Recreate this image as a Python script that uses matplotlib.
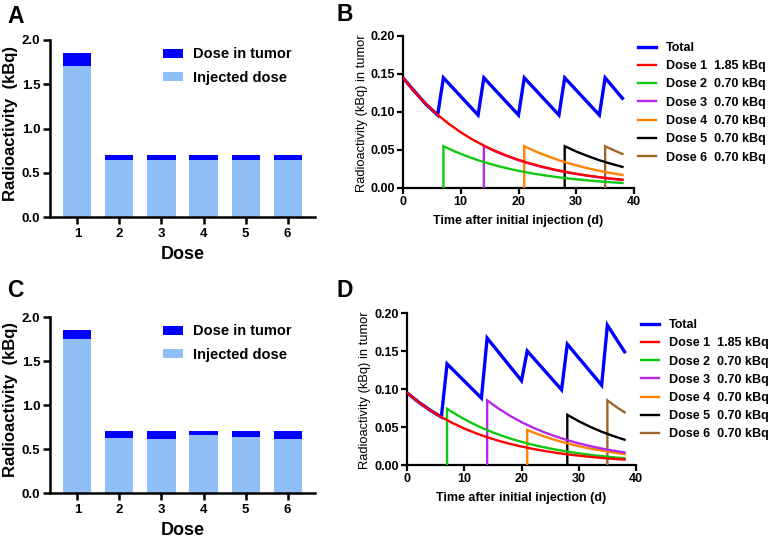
import matplotlib
matplotlib.use("Agg")
import matplotlib.pyplot as plt

plt.rcParams['font.family'] = ['Liberation Sans', 'DejaVu Sans']

# ---------------- data ----------------
doses = [1, 2, 3, 4, 5, 6]
# Panel A
a_injected = [1.705, 0.645, 0.645, 0.645, 0.645, 0.645]
a_tumor = [0.145, 0.055, 0.055, 0.055, 0.055, 0.055]
# Panel C
c_injected = [1.755, 0.626, 0.615, 0.654, 0.634, 0.615]
c_tumor = [0.095, 0.074, 0.085, 0.046, 0.066, 0.085]

# Panel B series (time in days, activity kBq)
b_total_t = [0, 2, 4, 6, 7, 13, 14, 20, 21, 27, 28, 34, 35, 38]
b_total_v = [0.145, 0.127, 0.110, 0.096, 0.145, 0.096, 0.145, 0.096, 0.145, 0.096, 0.145, 0.096, 0.145, 0.118]
b_d1_t = [0, 2, 4, 6, 8, 10, 12, 14, 16, 18, 20, 22, 24, 26, 28, 30, 32, 34, 36, 38]
b_d1_v = [0.145, 0.1265, 0.1104, 0.0963, 0.0840, 0.0733, 0.0639, 0.0558, 0.0487, 0.0425,
          0.0370, 0.0323, 0.0282, 0.0246, 0.0215, 0.0187, 0.0163, 0.0143, 0.0124, 0.0109]
b_d2_t = [7, 7, 9, 11, 13, 15, 17, 19, 21, 23, 25, 27, 29, 31, 33, 35, 37, 38]
b_d2_v = [0.0, 0.055, 0.048, 0.042, 0.0365, 0.0319, 0.0278, 0.0242, 0.0211, 0.0184, 0.0161,
          0.0140, 0.0122, 0.0107, 0.0093, 0.0081, 0.0071, 0.0066]
b_d3_t = [14, 14, 16, 18, 20, 22, 24, 26, 28, 30, 32, 34, 36, 38]
b_d3_v = [0.0, 0.055, 0.048, 0.042, 0.0365, 0.0319, 0.0278, 0.0242, 0.0211, 0.0184, 0.0161,
          0.0140, 0.0122, 0.0107]
b_d4_t = [21, 21, 23, 25, 27, 29, 31, 33, 35, 37, 38]
b_d4_v = [0.0, 0.055, 0.048, 0.042, 0.0365, 0.0319, 0.0278, 0.0242, 0.0211, 0.0184, 0.0172]
b_d5_t = [28, 28, 30, 32, 34, 36, 38]
b_d5_v = [0.0, 0.055, 0.048, 0.042, 0.0365, 0.0319, 0.0278]
b_d6_t = [35, 35, 36, 37, 38]
b_d6_v = [0.0, 0.055, 0.0514, 0.048, 0.0448]

# Panel D series
d_total_t = [0, 2, 4, 6, 7, 13, 14, 20, 21, 27, 28, 34, 35, 38]
d_total_v = [0.095, 0.0829, 0.0723, 0.0631, 0.133, 0.088, 0.167, 0.111, 0.150, 0.099, 0.159, 0.105, 0.184, 0.149]
d_d1_t = [0, 2, 4, 6, 8, 10, 12, 14, 16, 18, 20, 22, 24, 26, 28, 30, 32, 34, 36, 38]
d_d1_v = [0.095, 0.0829, 0.0723, 0.0631, 0.0550, 0.0480, 0.0419, 0.0365, 0.0319, 0.0278,
          0.0243, 0.0212, 0.0185, 0.0161, 0.0140, 0.0123, 0.0107, 0.0093, 0.0081, 0.0071]
d_d2_t = [7, 7, 9, 11, 13, 15, 17, 19, 21, 23, 25, 27, 29, 31, 33, 35, 37, 38]
d_d2_v = [0.0, 0.074, 0.0646, 0.0563, 0.0491, 0.0429, 0.0374, 0.0326, 0.0285, 0.0248, 0.0217,
          0.0189, 0.0165, 0.0144, 0.0125, 0.0109, 0.0095, 0.0089]
d_d3_t = [14, 14, 16, 18, 20, 22, 24, 26, 28, 30, 32, 34, 36, 38]
d_d3_v = [0.0, 0.085, 0.0742, 0.0647, 0.0564, 0.0492, 0.0430, 0.0375, 0.0327, 0.0285, 0.0249,
          0.0217, 0.0189, 0.0165]
d_d4_t = [21, 21, 23, 25, 27, 29, 31, 33, 35, 37, 38]
d_d4_v = [0.0, 0.046, 0.0401, 0.0350, 0.0305, 0.0266, 0.0232, 0.0203, 0.0177, 0.0154, 0.0144]
d_d5_t = [28, 28, 30, 32, 34, 36, 38]
d_d5_v = [0.0, 0.066, 0.0576, 0.0502, 0.0438, 0.0382, 0.0333]
d_d6_t = [35, 35, 36, 37, 38]
d_d6_v = [0.0, 0.085, 0.0794, 0.0742, 0.0693]

line_labels = ['Total', 'Dose 1  1.85 kBq', 'Dose 2  0.70 kBq', 'Dose 3  0.70 kBq',
               'Dose 4  0.70 kBq', 'Dose 5  0.70 kBq', 'Dose 6  0.70 kBq']
line_colors = ['#0000ff', '#ff0000', '#10c810', '#b428e6', '#ff8200', '#000000', '#a0652a']

DARK = '#0000ff'
LIGHT = '#90bff8'

W, H = 768, 541
fig = plt.figure(figsize=(W / 100, H / 100), dpi=100)


def box(l, t, r, b):
    return [l / W, 1 - b / H, (r - l) / W, (b - t) / H]


def style_axes(ax, lw=1.8):
    for s in ['top', 'right']:
        ax.spines[s].set_visible(False)
    for s in ['left', 'bottom']:
        ax.spines[s].set_linewidth(lw)
    ax.tick_params(width=lw, length=5, direction='out')


def bar_panel(ax, inj, tum):
    ax.bar(doses, inj, width=0.67, color=LIGHT, label='Injected dose')
    ax.bar(doses, tum, width=0.67, bottom=inj, color=DARK, label='Dose in tumor')
    ax.set_xlim(0.35, 6.65)
    ax.set_ylim(0, 2.0)
    ax.set_yticks([0.0, 0.5, 1.0, 1.5, 2.0])
    ax.set_yticklabels(['0.0', '0.5', '1.0', '1.5', '2.0'])
    ax.set_xticks(doses)
    style_axes(ax)
    ax.tick_params(axis='y', pad=2)
    ax.tick_params(axis='x', pad=3)
    for lab in ax.get_xticklabels() + ax.get_yticklabels():
        lab.set_fontweight('bold')
        lab.set_fontsize(9.5)
    ax.set_ylabel('Radioactivity  (kBq)', fontsize=12, fontweight='bold')
    ax.yaxis.set_label_coords(-0.12, 0.53)
    ax.set_xlabel('Dose', fontsize=13, fontweight='bold', labelpad=4)
    h, l = ax.get_legend_handles_labels()
    ax.legend(h[::-1], l[::-1], loc='upper left', bbox_to_anchor=(0.426, 0.958), frameon=False,
              borderpad=0, borderaxespad=0,
              prop={'weight': 'bold', 'size': 10.5}, handlelength=1.37, handleheight=0.55,
              labelspacing=0.65, handletextpad=0.7)


def line_panel(ax, series, legend_pos, ylab_x):
    lws = [2.4, 1.7, 1.7, 1.7, 1.7, 1.7, 1.7]
    zs = [2, 9, 8, 7, 6, 5, 4]
    handles = []
    for (t, v), c, lab, lw, z in zip(series, line_colors, line_labels, lws, zs):
        hdl, = ax.plot(t, v, color=c, lw=lw, label=lab, zorder=z, solid_joinstyle='miter')
        handles.append(hdl)
    ax.set_xlim(0, 40)
    ax.set_ylim(0, 0.20)
    ax.set_xticks([0, 10, 20, 30, 40])
    ax.set_yticks([0.0, 0.05, 0.10, 0.15, 0.20])
    ax.set_yticklabels(['0.00', '0.05', '0.10', '0.15', '0.20'])
    style_axes(ax, lw=1.6)
    ax.tick_params(length=4, pad=2)
    for lab in ax.get_xticklabels() + ax.get_yticklabels():
        lab.set_fontweight('bold')
        lab.set_fontsize(9)
    ax.set_ylabel('Radioactivity (kBq) in tumor', fontsize=9.3, fontweight='normal')
    ax.yaxis.set_label_coords(ylab_x, 0.49)
    ax.set_xlabel('Time after initial injection (d)', fontsize=9, fontweight='bold', labelpad=5)
    fig.legend(handles=handles, loc='upper left', bbox_to_anchor=legend_pos,
               bbox_transform=fig.transFigure, frameon=False, borderpad=0, borderaxespad=0,
               prop={'weight': 'bold', 'size': 9}, handlelength=1.45, handletextpad=0.8,
               labelspacing=0.5)


axA = fig.add_axes(box(50, 40, 315, 217))
bar_panel(axA, a_injected, a_tumor)
axC = fig.add_axes(box(50, 317, 315, 493))
bar_panel(axC, c_injected, c_tumor)

axB = fig.add_axes(box(403, 36, 634, 188))
line_panel(axB, [(b_total_t, b_total_v), (b_d1_t, b_d1_v), (b_d2_t, b_d2_v), (b_d3_t, b_d3_v),
                 (b_d4_t, b_d4_v), (b_d5_t, b_d5_v), (b_d6_t, b_d6_v)],
           (638 / W, 1 - 42 / H), -0.15)
axD = fig.add_axes(box(407, 313, 636, 465))
line_panel(axD, [(d_total_t, d_total_v), (d_d1_t, d_d1_v), (d_d2_t, d_d2_v), (d_d3_t, d_d3_v),
                 (d_d4_t, d_d4_v), (d_d5_t, d_d5_v), (d_d6_t, d_d6_v)],
           (641 / W, 1 - 319 / H), -0.158)

for letter, x, y in [('A', 7, 5), ('B', 336, 3), ('C', 7, 279), ('D', 336, 279)]:
    fig.text(x / W, 1 - y / H, letter, fontsize=16.5, fontweight='bold', va='top', ha='left')

fig.savefig('out.png', dpi=100)
